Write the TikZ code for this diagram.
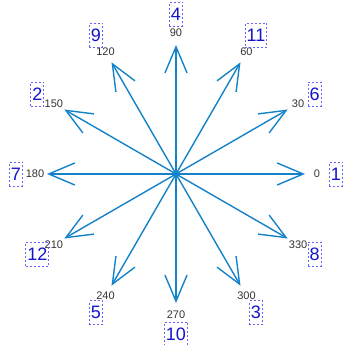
\documentclass[tikz,border=0pt]{standalone}
\usepackage{fontspec}
\setmainfont{Liberation Sans}
\usetikzlibrary{arrows.meta}
\definecolor{compassblue}{RGB}{20,130,200}
\definecolor{boxblue}{RGB}{100,100,255}
\definecolor{numblue}{RGB}{20,20,200}

\begin{document}
\begin{tikzpicture}[x=1pt,y=1pt,
  spoke/.style={compassblue, line width=1.4pt, -{Straight Barb[length=26pt,width=22pt]}},
  deglabel/.style={font=\fontsize{11}{12}\selectfont, text=black!80, inner sep=0pt},
  tagbox/.style={draw=boxblue, dash pattern=on 2pt off 2pt, line width=0.9pt, text=numblue,
    font=\fontsize{18}{20}\selectfont, inner xsep=1.5pt, inner ysep=0pt, minimum height=24pt}]
  \useasboundingbox (-176,-171) rectangle (167,174);
  \coordinate (o) at (0,0);
  \foreach \k in {0,...,11} {
    \pgfmathtruncatemacro{\ang}{30*\k}
    \pgfmathtruncatemacro{\tagnum}{mod(5*\k,12)+1}
    \coordinate (tip\ang) at (\ang:129);
    \draw[spoke] (o) -- (tip\ang);
    \node[deglabel] (deg\ang) at (\ang:141) {\ang};
    \node[tagbox] (box\tagnum) at (\ang:160) {\tagnum};
  }
\end{tikzpicture}
\end{document}
